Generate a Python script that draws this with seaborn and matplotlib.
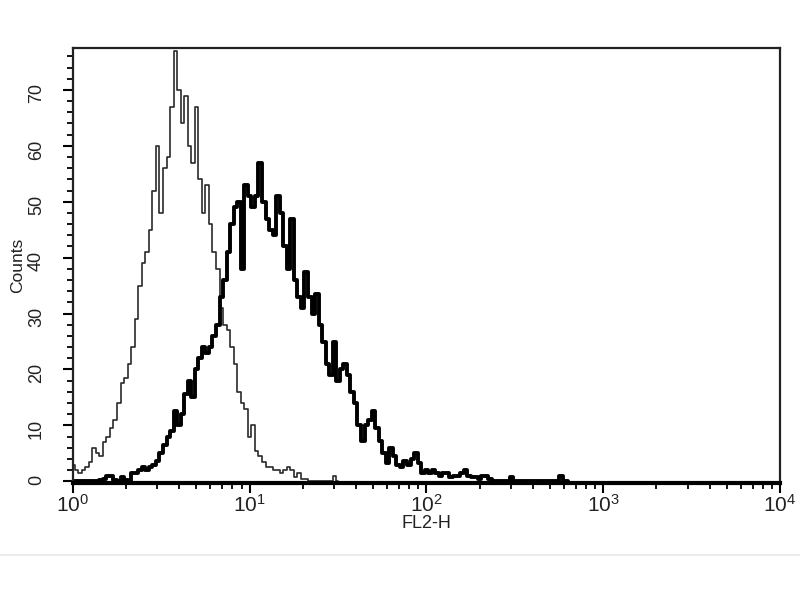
import numpy as np
import pandas as pd
import matplotlib
matplotlib.use("Agg")
import matplotlib.pyplot as plt
import seaborn as sns
from matplotlib.ticker import LogLocator, MultipleLocator

# log10 channel positions (instrument channel grid, step 0.02 decade)
control_log_channel = np.round(np.arange(0.0, 1.5001, 0.02), 2)
control_counts = [
    3, 2, 1.5, 2, 2.5, 3.5, 6, 5, 4.5, 7,
    8, 9.5, 11, 14, 17.5, 18.5, 21, 24, 29, 35,
    39, 41, 45, 52, 60, 48, 56, 58, 67, 77,
    70, 64, 69, 60, 57, 67, 54, 48, 53, 46,
    41, 38, 31, 28, 27, 24, 21, 16, 14, 13,
    8, 10, 5.5, 4.5, 3.5, 2.5, 2.5, 2, 2, 1.5,
    2, 2.5, 2, 0.7, 1.4, 0.5, 0.5, 0, 0, 0,
    0, 0, 0, 0, 1, 0,
]

sample_log_channel = np.round(np.arange(0.0, 2.8001, 0.02), 2)
sample_counts = [
    0, 0, 0, 0, 0, 0, 0, 0, 0.3, 0.5,
    1, 1, 0.3, 0, 0.7, 0.3, 0, 1.4, 1.5, 2,
    2.5, 2, 2.5, 3, 3.7, 5, 6.5, 8, 9, 12.6,
    10, 12, 15.7, 18, 15, 20, 22, 24, 23, 24,
    26, 28, 33, 36, 41, 46, 49, 50, 38, 53,
    51, 49, 51, 57, 50, 47, 45, 44, 51, 48,
    42, 38, 47, 36, 33, 31, 37.5, 33, 30, 33.5,
    28, 25, 21, 19, 25, 18, 20, 21, 19, 16,
    14, 10, 7.3, 10, 11, 12.6, 9.6, 7.3, 5, 3.2,
    6, 4.5, 3, 2.5, 3.7, 3, 4, 5, 3.2, 1.4,
    2, 1.5, 2, 1.5, 1, 1.5, 1.5, 0.7, 1, 1,
    1.5, 2, 1, 0.7, 0.7, 0.5, 1, 1, 0.5, 0,
    0, 0, 0, 0, 0.7, 0, 0, 0, 0, 0,
    0, 0, 0, 0, 0, 0, 0, 0, 1, 0,
    0,
]

x_tick_values = [1, 10, 100, 1000, 10000]
x_tick_labels = [r"$10^0$", r"$10^1$", r"$10^2$", r"$10^3$", r"$10^4$"]
y_tick_values = [0, 10, 20, 30, 40, 50, 60, 70]

control = pd.DataFrame({"FL2-H": 10 ** control_log_channel, "Counts": control_counts})
sample = pd.DataFrame({"FL2-H": 10 ** sample_log_channel, "Counts": sample_counts})

sns.set_style("ticks")
plt.rcParams["font.family"] = ["Liberation Sans", "DejaVu Sans"]
plt.rcParams["mathtext.fontset"] = "custom"
plt.rcParams["mathtext.rm"] = "Liberation Sans"
plt.rcParams["mathtext.it"] = "Liberation Sans"

fig = plt.figure(figsize=(8, 6), dpi=100)
ax = fig.add_axes([0.091, 0.195, 0.884, 0.725])

sns.lineplot(data=control, x="FL2-H", y="Counts", ax=ax, color="#2a2a2a",
             linewidth=1.2, drawstyle="steps-mid", estimator=None, sort=True)
sns.lineplot(data=sample, x="FL2-H", y="Counts", ax=ax, color="black",
             linewidth=2.8, drawstyle="steps-mid", estimator=None, sort=True)

ax.set_xscale("log")
ax.set_xlim(1, 10000)
ax.set_ylim(-0.3, 77.5)

ax.set_xticks(x_tick_values)
ax.set_xticklabels(x_tick_labels)
ax.xaxis.set_minor_locator(LogLocator(base=10, subs=np.arange(2, 10)))
ax.xaxis.set_minor_formatter(plt.NullFormatter())
ax.set_yticks(y_tick_values)
ax.yaxis.set_minor_locator(MultipleLocator(2))

ax.tick_params(axis="both", which="major", direction="out", length=7, width=1.5,
               color="black", labelcolor="#222222")
ax.tick_params(axis="both", which="minor", direction="out", length=4, width=1.3,
               color="black")
ax.tick_params(axis="y", labelrotation=90, pad=13, labelsize=13)
ax.tick_params(axis="x", pad=1, labelsize=15)

for side in ["left", "right", "top"]:
    ax.spines[side].set_linewidth(1.6)
    ax.spines[side].set_color("#222222")
ax.spines["bottom"].set_linewidth(3)
ax.spines["bottom"].set_color("black")

ax.set_xlabel("FL2-H", fontsize=13, labelpad=-1, color="#222222")
ax.set_ylabel("Counts", fontsize=12.5, labelpad=2, color="#222222")

fig.add_artist(plt.Line2D([0, 1], [0.075, 0.075], transform=fig.transFigure,
                          color="#ececec", linewidth=1.5))

fig.savefig("out.png", dpi=100)
